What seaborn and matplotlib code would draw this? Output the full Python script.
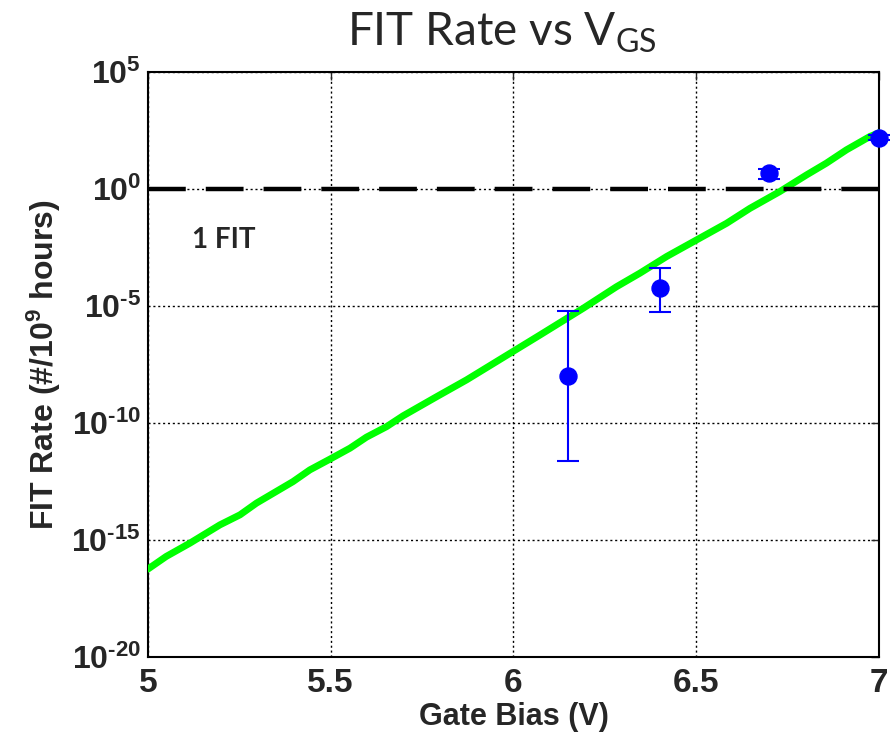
import matplotlib
matplotlib.use("Agg")
import matplotlib.pyplot as plt
import matplotlib.ticker as mticker
import numpy as np
import pandas as pd
import seaborn as sns

# model curve (log10 of FIT rate)
model_bias = [5.0, 5.05, 5.115, 5.197, 5.252, 5.297, 5.397, 5.443, 5.498, 5.553,
              5.598, 5.653, 5.698, 5.79, 5.872, 6.073, 6.191, 6.282, 6.346, 6.419,
              6.501, 6.583, 6.647, 6.729, 6.802, 6.856, 6.911, 6.975, 7.0]
model_log_fit = [-16.25, -15.71, -15.14, -14.36, -13.93, -13.43, -12.51, -12.01, -11.55, -11.08,
                 -10.61, -10.16, -9.70, -8.88, -8.16, -6.24, -5.10, -4.18, -3.60, -2.89,
                 -2.18, -1.47, -0.83, -0.11, 0.60, 1.10, 1.67, 2.24, 2.40]

# measured points with error bars (log10)
meas_bias = [6.15, 6.4, 6.7, 7.0]
meas_log = [-7.98, -4.24, 0.67, 2.19]
meas_log_hi = [-5.21, -3.36, 0.85, 2.29]
meas_log_lo = [-11.65, -5.27, 0.43, 2.09]

y_exps = [-20, -15, -10, -5, 0, 5]
x_ticks = [5, 5.5, 6, 6.5, 7]
x_labels = ["5", "5.5", "6", "6.5", "7"]

sns.set_style("white")
plt.rcParams["font.family"] = ["Liberation Sans", "DejaVu Sans"]
plt.rcParams["mathtext.fontset"] = "custom"
plt.rcParams["mathtext.rm"] = "Liberation Sans:bold"
plt.rcParams["mathtext.bf"] = "Liberation Sans:bold"
plt.rcParams["mathtext.it"] = "Liberation Sans:bold:italic"
plt.rcParams["mathtext.sf"] = "Lato"

model = pd.DataFrame({"bias": model_bias, "fit": np.power(10.0, model_log_fit)})
meas = pd.DataFrame({"bias": meas_bias, "fit": np.power(10.0, meas_log),
                     "hi": np.power(10.0, meas_log_hi), "lo": np.power(10.0, meas_log_lo)})

fig = plt.figure(figsize=(8.91, 7.38), dpi=100)
ax = fig.add_axes([0.166, 0.11, 0.8205, 0.7925])

ax.set_yscale("log")
ax.set_xlim(5, 7)
ax.set_ylim(1e-20, 1e5)

ax.grid(True, which="major", color="black", linestyle=(0, (1.5, 2)), linewidth=1)
ax.set_axisbelow(True)

sns.lineplot(data=model, x="bias", y="fit", ax=ax, color="#00ff00", linewidth=5, zorder=3)

ax.axhline(1.0, color="black", linewidth=3.2, linestyle=(0, (8.5, 4.5)), zorder=4)

yerr = np.vstack([meas["fit"] - meas["lo"], meas["hi"] - meas["fit"]])
ax.errorbar(meas["bias"], meas["fit"], yerr=yerr, fmt="none", ecolor="#0000ff",
            elinewidth=1.5, capsize=8, capthick=1.5, zorder=5, clip_on=False)
sns.scatterplot(data=meas, x="bias", y="fit", ax=ax, color="#0000ff", s=150,
                edgecolor="#0000ff", zorder=6, clip_on=False)

ax.text(5.12, 10 ** -2.2, "1 FIT", fontsize=20, fontweight="bold", family="Lato",
        ha="left", va="center")

ax.set_yticks([10.0 ** e for e in y_exps])
ax.set_yticklabels([f"$10^{{{e}}}$".replace("-", r"\text{-}") for e in y_exps])
ax.yaxis.set_minor_locator(mticker.NullLocator())
ax.set_xticks(x_ticks)
ax.set_xticklabels(x_labels)
ax.tick_params(axis="both", which="major", direction="in", length=6, width=1,
               top=True, right=True)
ax.tick_params(axis="y", labelsize=23, pad=5)
ax.tick_params(axis="x", labelsize=24, pad=8)
for lab in ax.get_xticklabels() + ax.get_yticklabels():
    lab.set_fontweight("bold")

for sp in ax.spines.values():
    sp.set_color("black")
    sp.set_linewidth(1.5)

ax.set_xlabel("Gate Bias (V)", fontsize=22, fontweight="bold", labelpad=2)
ax.set_ylabel("FIT Rate (#/10$^9$ hours)", fontsize=23, fontweight="bold", labelpad=6)
fig.text(0.563, 0.955, "FIT Rate vs V$_{\\mathsf{GS}}$", fontsize=33, family="Lato",
         ha="center", va="center")

fig.savefig("out.png", dpi=100)
